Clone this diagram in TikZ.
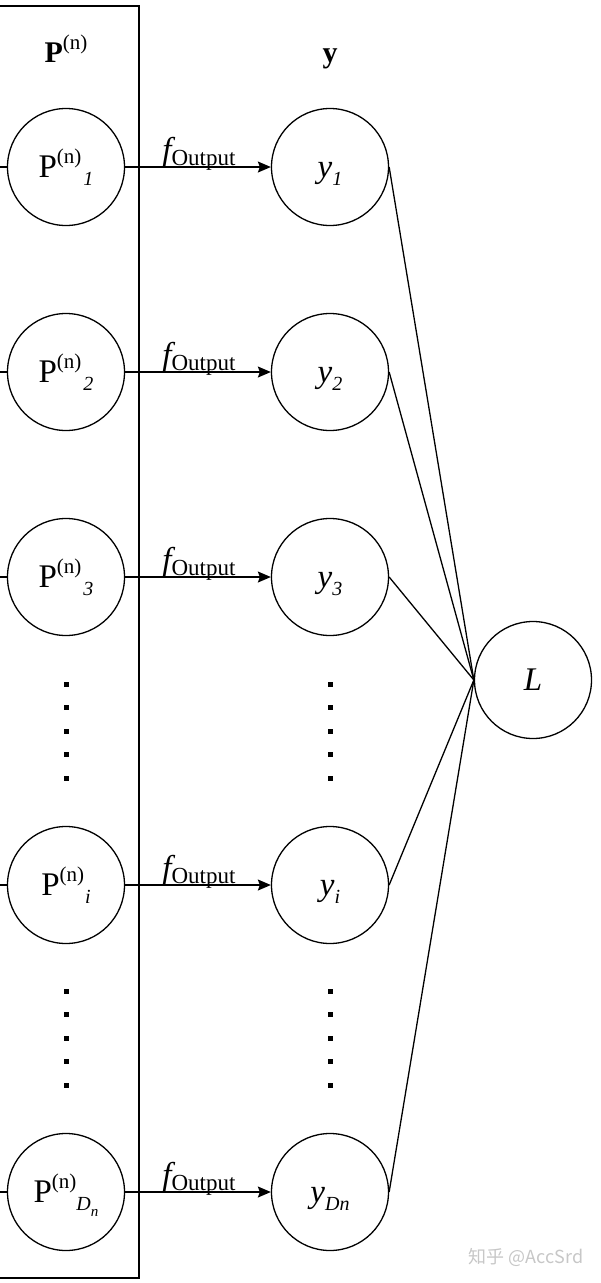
\documentclass[tikz,border=0pt]{standalone}
\usepackage{fontspec}
\setmainfont{Liberation Serif}
\newfontfamily\cjk{Noto Sans CJK SC}
\usetikzlibrary{arrows.meta,calc}

% raised and lowered indices, sized by hand
\newcommand{\upidx}[1]{\raisebox{0.42em}{\fontsize{21}{21}\selectfont #1}}
\newcommand{\lowidx}[1]{\raisebox{-0.25em}{\fontsize{20}{20}\selectfont\itshape #1}}
\newcommand{\tinyidx}[1]{\raisebox{-0.3em}{\fontsize{15}{15}\selectfont\itshape #1}}
\newcommand{\fout}{{\itshape f}\raisebox{-5pt}{\fontsize{23}{23}\selectfont Output}}

\tikzset{
    unit/.style={draw, circle, line width=1.3pt, minimum size=117pt, inner sep=0pt,
        text height=24pt, text depth=4pt, font=\fontsize{33}{38}\selectfont},
    head/.style={font=\fontsize{30}{34}\selectfont\bfseries, anchor=base},
    link/.style={line width=1.3pt},
    feed/.style={line width=1.3pt, -{Stealth[length=13pt, width=11pt, inset=2pt]}},
    vdot/.style={fill=black}
}

\begin{document}
\begin{tikzpicture}[x=1pt, y=-1pt]
    \useasboundingbox (0,0) rectangle (600,1283);

    % Frame round the first column
    \draw[line width=1.3pt] (-20,6) rectangle (139,1278);

    % Column heads
    \node (hP) at (66,62) [head] {P\upidx{\mdseries(n)}};
    \node (hy) at (330,62) [head] {y};

    % First column
    \node (p1) at (66,167) [unit] {P\upidx{(n)}\kern2pt\lowidx{1}};
    \node (p2) at (66,372) [unit] {P\upidx{(n)}\kern2pt\lowidx{2}};
    \node (p3) at (66,577) [unit] {P\upidx{(n)}\kern2pt\lowidx{3}};
    \node (pi) at (66,885) [unit] {P\upidx{(n)}\kern1pt\lowidx{i}};
    \node (pD) at (66,1192) [unit] {P\upidx{(n)}\lowidx{D\tinyidx{n}}};

    % Second column
    \node (y1) at (330,167) [unit] {\itshape y\lowidx{1}};
    \node (y2) at (330,372) [unit] {\itshape y\lowidx{2}};
    \node (y3) at (330,577) [unit] {\itshape y\lowidx{3}};
    \node (yi) at (330,885) [unit] {\itshape y\lowidx{i}};
    \node (yD) at (330,1192) [unit] {\itshape y\lowidx{Dn}};

    % Loss
    \node (L) at (533,680) [unit] {\itshape L};

    % Stubs coming in from the left
    \foreach \n in {p1,p2,p3,pi,pD}
        \draw[link] (\n.west) -- ($(\n.west)+(-20,0)$);

    % Output maps
    \foreach \a/\b in {p1/y1,p2/y2,p3/y3,pi/yi,pD/yD}
        \draw[feed] (\a.east) -- (\b.west)
            node[midway, anchor=base, yshift=7pt, xshift=1pt,
                font=\fontsize{33}{38}\selectfont] {\fout};

    % Into the loss
    \foreach \b in {y1,y2,y3,yi,yD}
        \draw[link] (\b.east) -- (L.west);

    % Vertical dots
    \foreach \c in {731,1038}
        \foreach \k in {-2,...,2} {
            \fill[vdot] ($(66,\c)+(-2.5,{\k*23.5-2.5})$) rectangle ++(5,5);
            \fill[vdot] ($(330,\c)+(-2.5,{\k*23.5-2.5})$) rectangle ++(5,5);
        }

    % Watermark
    \node (wm) at (526,1257) [text=black!22, font=\cjk\fontsize{18}{21}\selectfont] {知乎 @AccSrd};
\end{tikzpicture}
\end{document}
